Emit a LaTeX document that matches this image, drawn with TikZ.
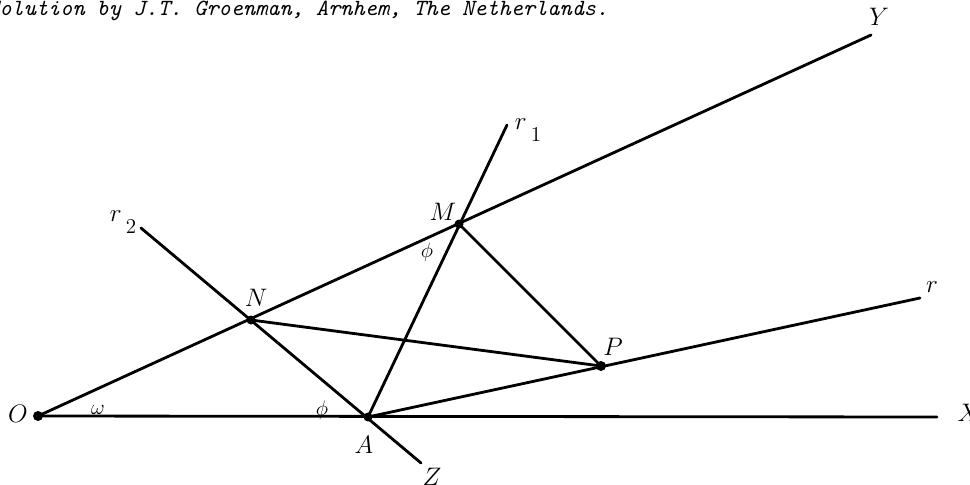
\documentclass[tikz,border=0pt]{standalone}
\begin{document}
\begin{tikzpicture}[x=0.02cm,y=-0.02cm,line cap=round,line join=round]
  \tikzset{lbl/.style={font=\Large},ang/.style={font=\large}}
  \useasboundingbox (0,0) rectangle (970,484);
  \node[anchor=base west,font=\ttfamily\itshape\fontsize{13.2}{15}\selectfont,inner sep=0pt] (head) at (-13,15) {Solution by J.T. Groenman, Arnhem, The Netherlands.};
  % points
  \coordinate (O) at (38,416);
  \coordinate (A) at (368,417);
  \coordinate (N) at (251,320);
  \coordinate (M) at (459,224);
  \coordinate (P) at (601,366);
  \coordinate (Xe) at (937,417);
  \coordinate (Ye) at (871,35);
  \coordinate (Ze) at (421,463);
  \coordinate (re) at (920,298);
  \coordinate (r1e) at (507,125);
  \coordinate (r2e) at (141,228);
  % lines
  \draw[line width=1.6pt] (O) -- (Xe);
  \draw[line width=1.6pt] (O) -- (Ye);
  \draw[line width=1.6pt] (A) -- (re);
  \draw[line width=1.6pt] (A) -- (r1e);
  \draw[line width=1.6pt] (r2e) -- (Ze);
  \draw[line width=1.6pt] (N) -- (P) -- (M);
  \fill (O) circle (5);
  \fill (A) circle (4.5);
  \fill (N) circle (4.5);
  \fill (M) circle (4.5);
  \fill (P) circle (5);
  % labels
  \node[lbl] (lO) at (18,414) {$O$};
  \node[lbl] (lA) at (364,445) {$A$};
  \node[lbl] (lZ) at (432,477) {$Z$};
  \node[lbl] (lN) at (256,298) {$N$};
  \node[lbl] (lM) at (443,212) {$M$};
  \node[lbl] (lP) at (613,347) {$P$};
  \node[lbl] (lY) at (879,17) {$Y$};
  \node[lbl] (lX) at (969,413) {$X$};
  \node[lbl] (lr) at (932,287) {$r$};
  \node[lbl] (lr1) at (528,130) {$r$\,\raisebox{-1.1ex}{\large 1}};
  \node[lbl] (lr2) at (123,222) {$r$\,\raisebox{-1.1ex}{\large 2}};
  \node[ang] (w) at (98,410) {$\omega$};
  \node[ang] (f1) at (322,410) {$\phi$};
  \node[ang] (f2) at (427,252) {$\phi$};
\end{tikzpicture}
\end{document}
